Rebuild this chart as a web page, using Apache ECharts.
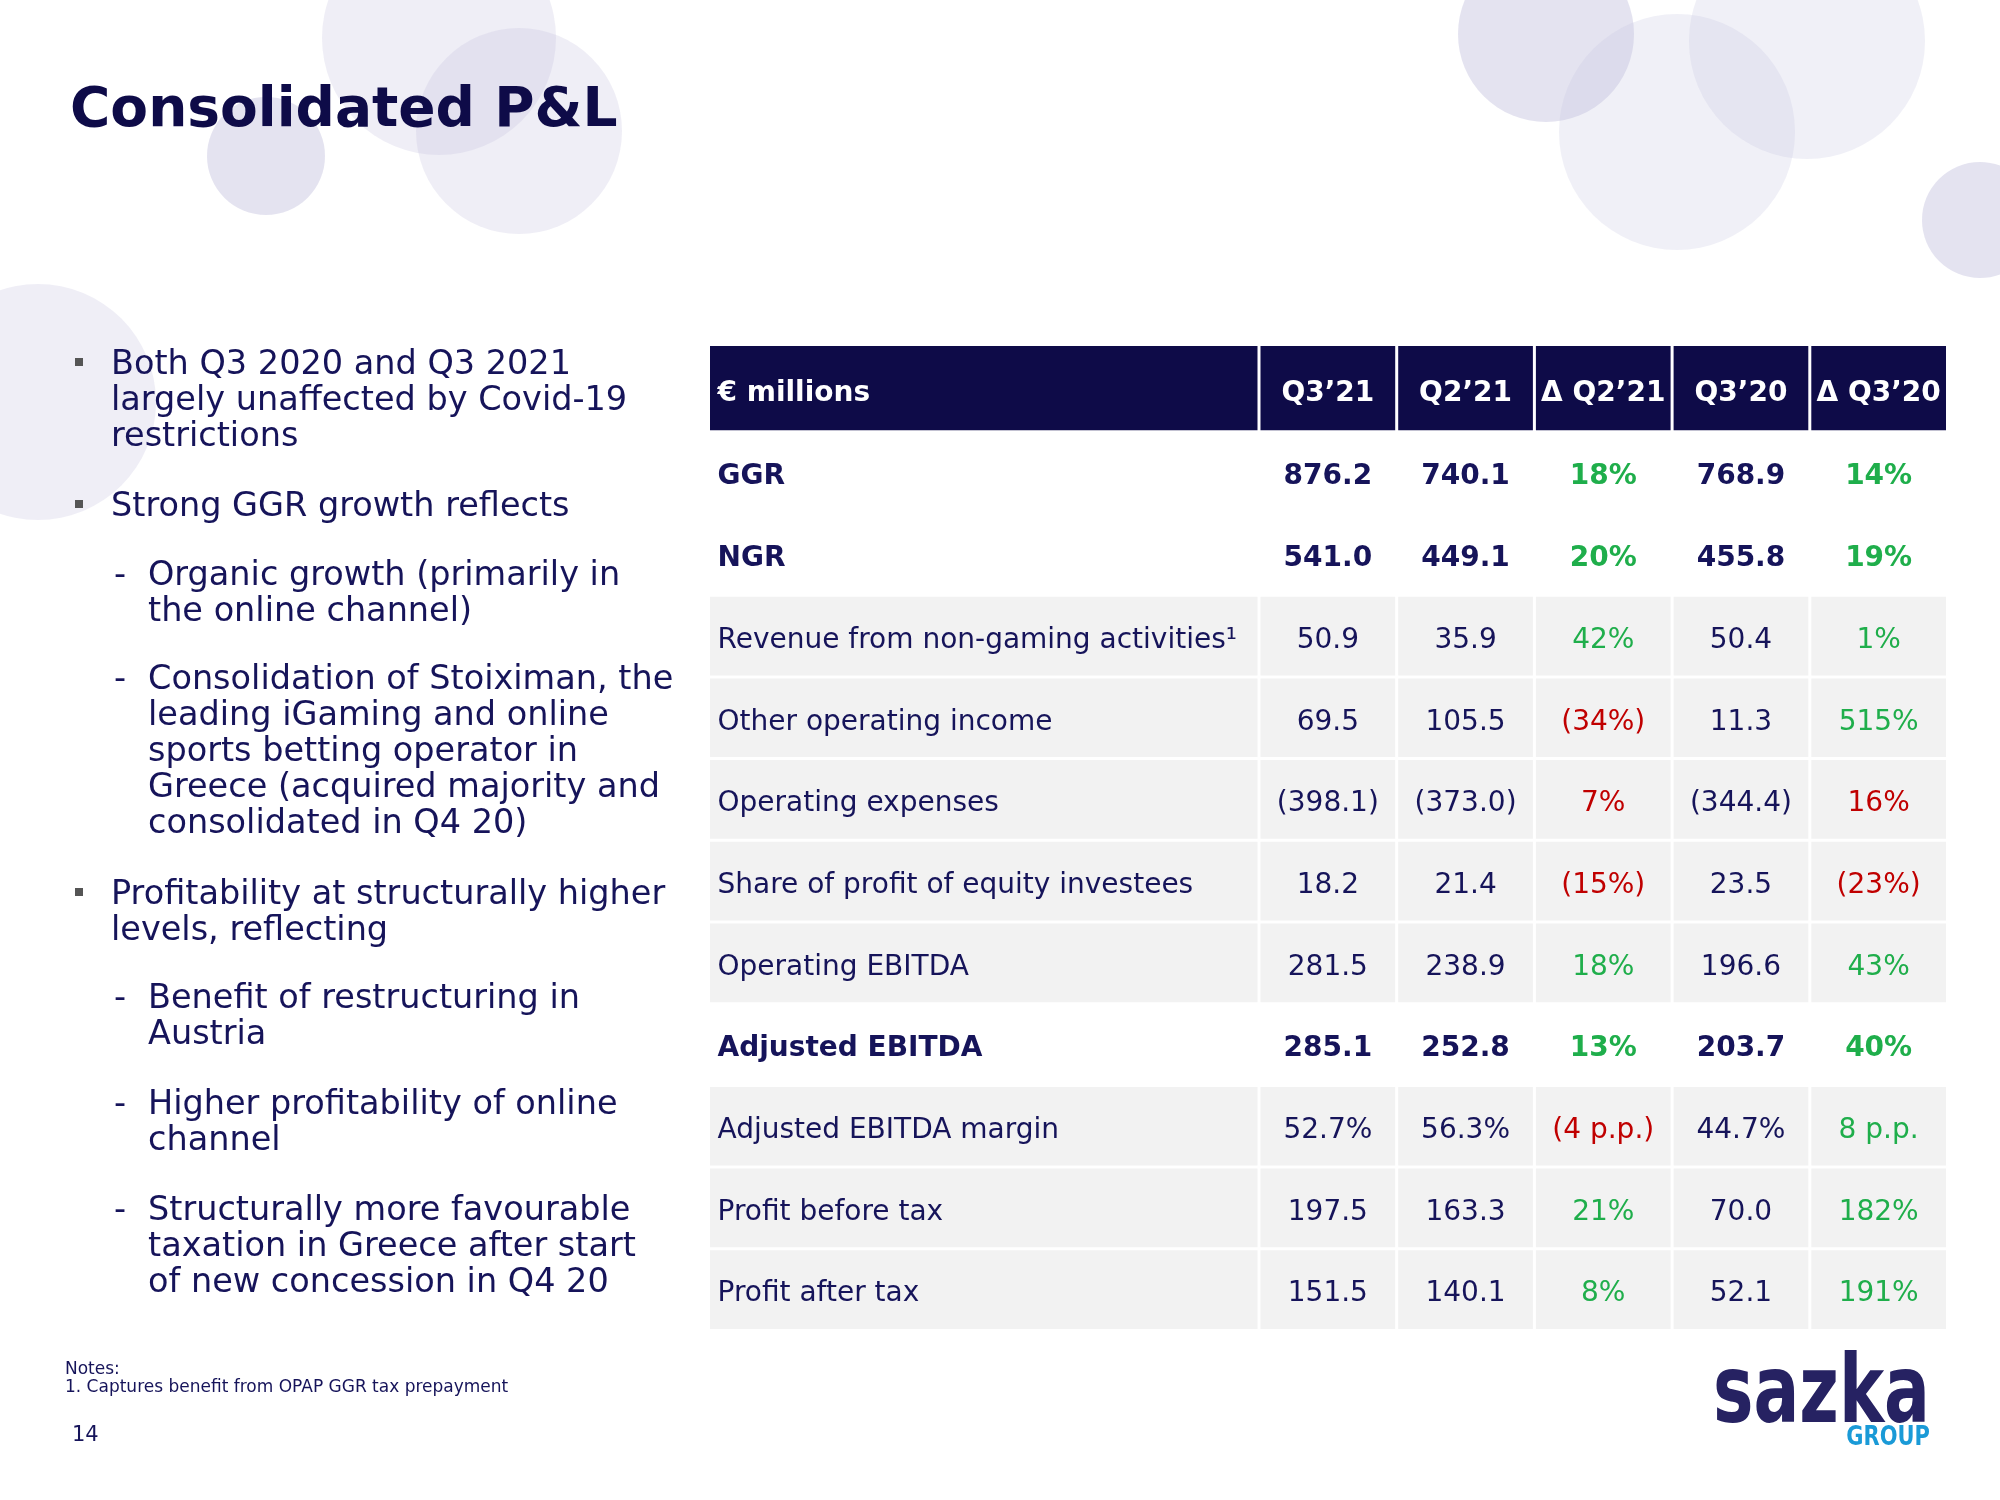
<!DOCTYPE html>
<html><head><meta charset="utf-8">
<script src="https://cdn.jsdelivr.net/npm/echarts@6/dist/echarts.min.js"></script>
<style>html,body{margin:0;padding:0;background:#fff}#c{width:2000px;height:1500px}</style>
</head><body><div id="c"></div>
<script>
// ---- data ----
const rowLabels = ['GGR','NGR','Revenue from non-gaming activities\u00B9','Other operating income','Operating expenses','Share of profit of equity investees','Operating EBITDA','Adjusted EBITDA','Adjusted EBITDA margin','Profit before tax','Profit after tax'];
const headerLabel = '€ millions';
const colHeaders = ['Q3’21','Q2’21','Δ Q2’21','Q3’20','Δ Q3’20'];
const q3_21 = [876.2, 541.0, 50.9, 69.5, -398.1, 18.2, 281.5, 285.1, 52.7, 197.5, 151.5];
const q2_21 = [740.1, 449.1, 35.9, 105.5, -373.0, 21.4, 238.9, 252.8, 56.3, 163.3, 140.1];
const deltaQ2_21 = [18, 20, 42, -34, 7, -15, 18, 13, -4, 21, 8];
const q3_20 = [768.9, 455.8, 50.4, 11.3, -344.4, 23.5, 196.6, 203.7, 44.7, 70.0, 52.1];
const deltaQ3_20 = [14, 19, 1, 515, 16, -23, 43, 40, 8, 182, 191];
const rowUnit = ['m','m','m','m','m','m','m','m','%','m','m'];
const costRows = [false,false,false,false,true,false,false,false,false,false,false];

// ---- styles ----
const boldRows = [true,true,false,false,false,false,false,true,false,false,false];
const shadedRows = [false,false,true,true,true,true,true,false,true,true,true];
const NAVY = '#16145a', HEAD = '#0e0b48', GREEN = '#1fae4b', RED = '#c00000', GRAY = '#f2f2f2';
const FONT = '"DejaVu Sans", Verdana, sans-serif';
const valueCols = [q3_21, q2_21, deltaQ2_21, q3_20, deltaQ3_20];
const isDelta = [false,false,true,false,true];
const G = 1.5;
const TY = 4.5;

function fmtVal(v,i){ const s = Math.abs(v).toFixed(1) + (rowUnit[i]==='%'?'%':''); return v<0?'('+s+')':s; }
function fmtDelta(d,i){ const s = Math.abs(d) + (rowUnit[i]==='%'?' p.p.':'%'); return d<0?'('+s+')':s; }

function cellRect(c,s,fill){
  return {type:'rect', shape:{x:c[0]-s[0]/2+G, y:c[1]-s[1]/2+G, width:s[0]-2*G, height:s[1]-2*G}, style:{fill}};
}
function bodyValue(params, api){
  const j = api.value(0), i = api.value(1);
  const c = api.coord([j,i]), s = api.size([1,1]);
  const ch = [];
  if (shadedRows[i]) ch.push(cellRect(c,s,GRAY));
  const v = valueCols[j][i];
  let text, color;
  if (isDelta[j]) { text = fmtDelta(v,i); const fav = costRows[i] ? v<0 : v>0; color = fav?GREEN:RED; }
  else { text = fmtVal(v,i); color = NAVY; }
  ch.push({type:'text', x:c[0], y:c[1]+TY, style:{text, fill:color, fontSize:28, fontWeight:boldRows[i]?'bold':'normal', fontFamily:FONT, align:'center', verticalAlign:'middle'}});
  return {type:'group', children:ch};
}
function bodyLabel(params, api){
  const i = api.value(1);
  const c = api.coord([0,i]), s = api.size([1,1]);
  const ch = [];
  if (shadedRows[i]) ch.push(cellRect(c,s,GRAY));
  ch.push({type:'text', x:c[0]-s[0]/2+9, y:c[1]+TY, style:{text:rowLabels[i], fill:NAVY, fontSize:28, fontWeight:boldRows[i]?'bold':'normal', fontFamily:FONT, align:'left', verticalAlign:'middle'}});
  return {type:'group', children:ch};
}
function headCell(params, api){
  const j = api.value(0);
  const c = api.coord([j,0]), s = api.size([1,1]);
  return {type:'group', children:[cellRect(c,s,HEAD),
    {type:'text', x:c[0], y:c[1]+TY+1.5, style:{text:colHeaders[j], fill:'#fff', fontSize:28, fontWeight:'bold', fontFamily:FONT, align:'center', verticalAlign:'middle'}}]};
}
function headLabel(params, api){
  const c = api.coord([0,0]), s = api.size([1,1]);
  return {type:'group', children:[cellRect(c,s,HEAD),
    {type:'text', x:c[0]-s[0]/2+9, y:c[1]+TY+1.5, style:{text:headerLabel, fill:'#fff', fontSize:28, fontWeight:'bold', fontFamily:FONT, align:'left', verticalAlign:'middle'}}]};
}

// ---- left text ----
const paragraphs = [
  {lvl:0, y:362, text:'Both Q3 2020 and Q3 2021\nlargely unaffected by Covid-19\nrestrictions'},
  {lvl:0, y:504, text:'Strong GGR growth reflects'},
  {lvl:1, y:573, text:'Organic growth (primarily in\nthe online channel)'},
  {lvl:1, y:677, text:'Consolidation of Stoiximan, the\nleading iGaming and online\nsports betting operator in\nGreece (acquired majority and\nconsolidated in Q4 20)'},
  {lvl:0, y:892, text:'Profitability at structurally higher\nlevels, reflecting'},
  {lvl:1, y:996, text:'Benefit of restructuring in\nAustria'},
  {lvl:1, y:1102, text:'Higher profitability of online\nchannel'},
  {lvl:1, y:1208, text:'Structurally more favourable\ntaxation in Greece after start\nof new concession in Q4 20'}
];
const LH = 36, PY = 3;
const graphics = [];
// decorative circles
const circles = [
  [439,38,117,0.28],[519,131,103,0.28],[266,156,59,0.45],[38,402,118,0.28],
  [1546,34,88,0.45],[1677,132,118,0.25],[1807,41,118,0.25],[1980,220,58,0.45]
];
circles.forEach(c=>graphics.push({type:'circle', shape:{cx:c[0], cy:c[1], r:c[2]}, style:{fill:'rgba(196,194,222,'+c[3]+')'}, z:-10}));
graphics.push({type:'text', x:70, y:112, style:{text:'Consolidated P&L', fill:HEAD, fontSize:55, fontWeight:'bold', fontFamily:FONT, verticalAlign:'middle'}});
paragraphs.forEach(p=>{
  if (p.lvl===0) graphics.push({type:'rect', shape:{x:75, y:p.y-4, width:8, height:8}, style:{fill:'#555555'}});
  else graphics.push({type:'text', x:114, y:p.y+PY, style:{text:'-', fill:NAVY, fontSize:33.5, fontFamily:FONT, verticalAlign:'middle'}});
  graphics.push({type:'text', x:p.lvl===0?111:148, y:p.y-LH/2+PY, style:{text:p.text, fill:NAVY, fontSize:33.5, fontFamily:FONT, lineHeight:LH, verticalAlign:'top'}});
});
graphics.push({type:'text', x:65, y:1360, style:{text:'Notes:\n1. Captures benefit from OPAP GGR tax prepayment', fill:NAVY, fontSize:17, fontFamily:FONT, lineHeight:18.5, verticalAlign:'top'}});
graphics.push({type:'text', x:72, y:1436, style:{text:'14', fill:NAVY, fontSize:21, fontFamily:FONT, verticalAlign:'middle'}});
graphics.push({type:'text', x:1930, y:1398, scaleY:1.38, style:{text:'sazka', fill:'#262262', fontSize:68, fontWeight:'bold', fontFamily:FONT, align:'right', verticalAlign:'middle'}});
graphics.push({type:'text', x:1930, y:1438, scaleY:1.3, style:{text:'GROUP', fill:'#1a9ad7', fontSize:21, fontWeight:'bold', fontFamily:FONT, align:'right', verticalAlign:'middle'}});

const rowIdx = rowLabels.map((_,i)=>i);
const option = {
  backgroundColor:'#ffffff',
  animation:false,
  graphic: graphics,
  grid:[
    {left:708.5, top:344.5, width:550.5, height:87.3},
    {left:1259, top:344.5, width:688.5, height:87.3},
    {left:708.5, top:431.8, width:550.5, height:898.7},
    {left:1259, top:431.8, width:688.5, height:898.7}
  ],
  xAxis:[
    {type:'category', gridIndex:0, data:[headerLabel], show:false},
    {type:'category', gridIndex:1, data:colHeaders, show:false},
    {type:'category', gridIndex:2, data:[headerLabel], show:false},
    {type:'category', gridIndex:3, data:colHeaders, show:false}
  ],
  yAxis:[
    {type:'category', gridIndex:0, data:['head'], show:false},
    {type:'category', gridIndex:1, data:['head'], show:false},
    {type:'category', gridIndex:2, data:rowLabels, inverse:true, show:false},
    {type:'category', gridIndex:3, data:rowLabels, inverse:true, show:false}
  ],
  series:[
    {type:'custom', xAxisIndex:0, yAxisIndex:0, renderItem:headLabel, data:[[0,0]]},
    {type:'custom', xAxisIndex:1, yAxisIndex:1, renderItem:headCell, data:colHeaders.map((_,j)=>[j,0])},
    {type:'custom', xAxisIndex:2, yAxisIndex:2, renderItem:bodyLabel, data:rowIdx.map(i=>[0,i])},
    {type:'custom', xAxisIndex:3, yAxisIndex:3, renderItem:bodyValue, data:[].concat(...colHeaders.map((_,j)=>rowIdx.map(i=>[j,i])))}
  ]
};
const chart = echarts.init(document.getElementById('c'));
chart.setOption(option);
</script>
</body></html>
